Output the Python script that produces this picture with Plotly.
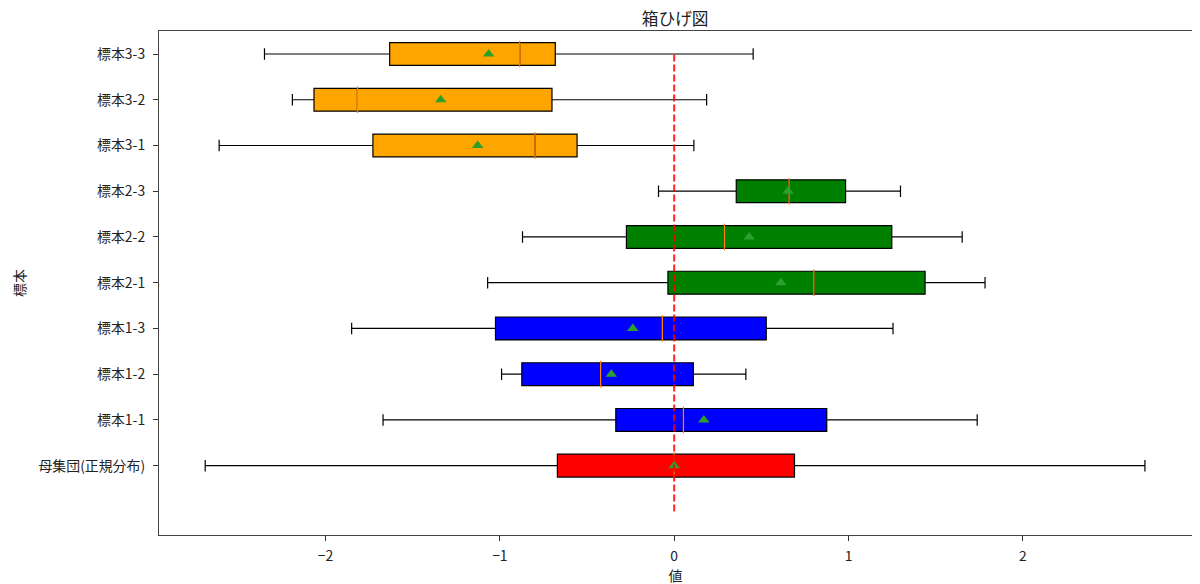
import plotly.graph_objects as go

# categories from bottom to top
labels = ["母集団(正規分布)", "標本1-1", "標本1-2", "標本1-3",
          "標本2-1", "標本2-2", "標本2-3",
          "標本3-1", "標本3-2", "標本3-3"]
positions = [1, 2, 3, 4, 5, 6, 7, 8, 9, 10]

whisker_lo = [-2.69, -1.67, -0.99, -1.85, -1.07, -0.87, -0.09, -2.61, -2.19, -2.35]
q1 = [-0.67, -0.335, -0.874, -1.025, -0.036, -0.274, 0.356, -1.728, -2.066, -1.632]
median = [0.0, 0.053, -0.422, -0.068, 0.801, 0.288, 0.659, -0.799, -1.817, -0.886]
q3 = [0.69, 0.875, 0.110, 0.528, 1.439, 1.248, 0.983, -0.557, -0.701, -0.682]
whisker_hi = [2.70, 1.738, 0.411, 1.255, 1.783, 1.652, 1.298, 0.113, 0.186, 0.453]
means = [0.0, 0.170, -0.361, -0.237, 0.612, 0.430, 0.653, -1.127, -1.339, -1.064]
box_colors = ["red", "blue", "blue", "blue", "green", "green", "green",
              "orange", "orange", "orange"]

ref_x = 0.0
xticks = [-2, -1, 0, 1, 2]
xtick_text = ["−2", "−1", "0", "1", "2"]

FONT = "Noto Sans CJK JP, sans-serif"
TXT = "#222222"

fig = go.Figure()

for i in range(len(labels)):
    fig.add_trace(go.Box(
        y=[positions[i]],
        q1=[q1[i]], median=[median[i]], q3=[q3[i]],
        lowerfence=[whisker_lo[i]], upperfence=[whisker_hi[i]],
        orientation="h",
        fillcolor=box_colors[i],
        line=dict(color="black", width=1.2),
        width=0.5,
        whiskerwidth=0.5,
        boxpoints=False,
        hoverinfo="skip",
        showlegend=False,
    ))

# median lines (orange, matplotlib style)
fig.add_trace(go.Scatter(
    x=median, y=positions, mode="markers",
    marker=dict(symbol="line-ns", size=19, line=dict(color="#ff7f0e", width=1.3)),
    showlegend=False, hoverinfo="skip",
))

# means
fig.add_trace(go.Scatter(
    x=means, y=positions, mode="markers",
    marker=dict(symbol="triangle-up", size=10, color="#2ca02c"),
    showlegend=False,
))

# reference line at the population mean
fig.add_trace(go.Scatter(
    x=[ref_x, ref_x], y=[0, len(labels)], mode="lines",
    line=dict(color="red", width=2, dash="7px,3px"),
    opacity=0.85,
    showlegend=False, hoverinfo="skip",
))

# the page puts the figure 8px in from the top-left, so margins are shifted by that
fig.update_layout(
    width=1200, height=584,
    margin=dict(l=151, r=16, t=23, b=57),
    paper_bgcolor="white", plot_bgcolor="white",
    font=dict(family=FONT, size=13.9, color=TXT),
    title=dict(text="箱ひげ図", x=0.556, xanchor="center", xref="container",
               y=0.991, yanchor="top", yref="container",
               font=dict(size=16.7, family=FONT, color=TXT)),
)

fig.update_xaxes(
    range=[-2.955, 2.97],
    tickvals=xticks, ticktext=xtick_text,
    ticks="outside", ticklen=5, tickcolor="#333333", ticklabelstandoff=3,
    showgrid=False, zeroline=False,
    showline=True, linecolor="#444444", linewidth=1.2, mirror=True,
    title=dict(text="値", standoff=5, font=dict(size=13.9)),
)
fig.update_yaxes(
    range=[-0.516, 10.503],
    tickvals=positions, ticktext=labels,
    ticks="outside", ticklen=5, tickcolor="#333333", ticklabelstandoff=5,
    showgrid=False, zeroline=False,
    showline=True, linecolor="#444444", linewidth=1.2, mirror=True,
    title=dict(text="標本", standoff=9, font=dict(size=13.9)),
)

fig.write_html("out.html")
